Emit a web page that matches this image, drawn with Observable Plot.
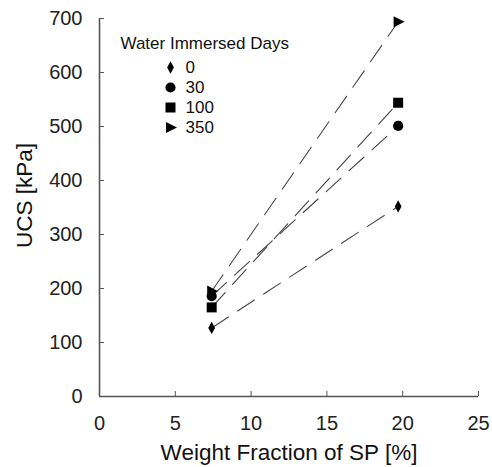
<!DOCTYPE html>
<html>
<head>
<meta charset="utf-8">
<script src="https://cdn.jsdelivr.net/npm/d3@7"></script>
<script src="https://cdn.jsdelivr.net/npm/@observablehq/plot@0.6"></script>
<style>
  html, body { margin: 0; padding: 0; background: #fff; }
  #chart { width: 492px; height: 467px; }
</style>
</head>
<body>
<div id="chart"></div>
<script>
// Data
const days = ["0", "30", "100", "350"];
const spFraction = [7.4, 19.7];
const ucs0 = [127, 352];
const ucs30 = [186, 501];
const ucs100 = [165, 544];
const ucs350 = [195, 694];
const xTicks = [0, 5, 10, 15, 20, 25];
const yTicks = [0, 100, 200, 300, 400, 500, 600, 700];

const seriesValues = [ucs0, ucs30, ucs100, ucs350];
const rows = [];
days.forEach((d, i) => spFraction.forEach((x, j) => rows.push({days: d, x, y: seriesValues[i][j]})));

// Custom symbols (scaled relative to r = 5.5)
const unit = size => Math.sqrt(size) / (5.5 * Math.sqrt(Math.PI));
const thinDiamond = {draw(ctx, size) {
  const k = unit(size), h = 6.2 * k, w = 3.4 * k;
  ctx.moveTo(0, -h); ctx.lineTo(w, 0); ctx.lineTo(0, h); ctx.lineTo(-w, 0); ctx.closePath();
}};
const circle = {draw(ctx, size) {
  const r = 5.1 * unit(size);
  ctx.moveTo(r, 0); ctx.arc(0, 0, r, 0, 2 * Math.PI);
}};
const square = {draw(ctx, size) {
  const s = 5.0 * unit(size);
  ctx.rect(-s, -s, 2 * s, 2 * s);
}};
const triRight = {draw(ctx, size) {
  const k = unit(size);
  ctx.moveTo(6.5 * k, 0); ctx.lineTo(-4.5 * k, -5.6 * k); ctx.lineTo(-4.5 * k, 5.6 * k); ctx.closePath();
}};
const symbolFor = {"0": thinDiamond, "30": circle, "100": square, "350": triRight};

const font = "Liberation Sans, Arial, sans-serif";

const legendMarks = [];
legendMarks.push(Plot.text(["Water Immersed Days"], {
  frameAnchor: "top-left", dx: 21, dy: 25, textAnchor: "start", lineAnchor: "middle", fontSize: 17, fill: "#111"
}));
days.forEach((d, i) => {
  legendMarks.push(Plot.dot([d], {
    frameAnchor: "top-left", dx: 71, dy: 49 + 20 * i, symbol: () => symbolFor[d], r: 5.5, fill: "#000", stroke: "none"
  }));
  legendMarks.push(Plot.text([d], {
    frameAnchor: "top-left", dx: 86, dy: 49 + 20 * i, textAnchor: "start", lineAnchor: "middle", fontSize: 17, fill: "#111"
  }));
});

const plot = Plot.plot({
  width: 492,
  height: 467,
  marginLeft: 99,
  marginRight: 14,
  marginTop: 18,
  marginBottom: 71,
  style: {fontFamily: font, background: "#fff", color: "#222"},
  x: {domain: [0, 25], ticks: xTicks, label: null},
  y: {domain: [0, 700], ticks: yTicks, label: null},
  symbol: {type: "identity"},
  marks: [
    Plot.line(rows, {x: "x", y: "y", z: "days", stroke: "#444", strokeWidth: 1.1, strokeDasharray: "20,11"}),
    Plot.dot(rows, {x: "x", y: "y", symbol: d => symbolFor[d.days], r: 5.5, fill: "#000", stroke: "none"}),
    Plot.ruleY([0], {stroke: "#555", strokeWidth: 1.6}),
    Plot.ruleX([0], {stroke: "#555", strokeWidth: 1.6}),
    Plot.axisX({ticks: xTicks, tickSize: -5, tickPadding: 24, fontSize: 20, stroke: "#555", label: null}),
    Plot.axisY({ticks: yTicks, tickSize: -5, tickPadding: 22, fontSize: 20, stroke: "#555", label: null}),
    Plot.text(["Weight Fraction of SP [%]"], {frameAnchor: "bottom", lineAnchor: "middle", dy: 56, fontSize: 22.5, fill: "#111"}),
    Plot.text(["UCS [kPa]"], {frameAnchor: "left", textAnchor: "middle", lineAnchor: "middle", dx: -75, dy: -12, rotate: -90, fontSize: 22.5, fill: "#111"}),
    ...legendMarks
  ]
});
document.getElementById("chart").appendChild(plot);
</script>
</body>
</html>
